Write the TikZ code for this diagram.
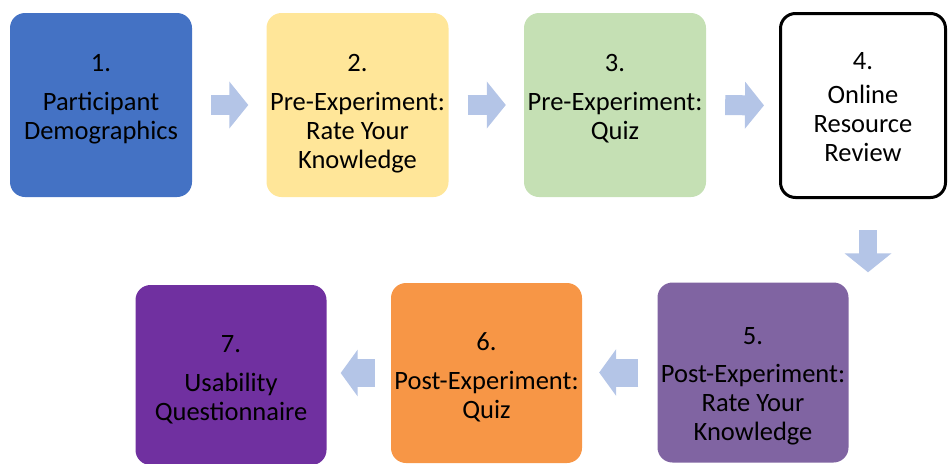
\documentclass[tikz,border=0pt]{standalone}
\usepackage{xcolor}
\usepackage{fontspec}
\setmainfont{Carlito}
\usepackage{tikz}
\usetikzlibrary{positioning,arrows.meta,calc}

\definecolor{stepblue}{HTML}{4472C4}
\definecolor{stepgold}{HTML}{FFE699}
\definecolor{stepgreen}{HTML}{C5E0B4}
\definecolor{steplilac}{HTML}{8064A2}
\definecolor{steporange}{HTML}{F79646}
\definecolor{steppurple}{HTML}{7030A0}
\definecolor{flowblue}{HTML}{B4C5E7}

\begin{document}
\begin{tikzpicture}[x=1pt, y=-1pt,
    box/.style={rectangle, rounded corners=15pt, minimum width=182pt, minimum height=184pt, inner sep=0pt},
    lowbox/.style={box, minimum width=191pt, minimum height=180pt},
    txt/.style={align=center, inner sep=0pt, font=\fontsize{26.5}{29}\selectfont},
    flow/.style={draw=flowblue, line width=20pt, -{Triangle[width=46pt, length=19pt]}, shorten <=19pt, shorten >=18pt},
    lowflow/.style={draw=flowblue, line width=28pt, -{Triangle[width=46pt, length=17pt]}}
]
    \useasboundingbox (0,0) rectangle (952,463);

    \node[box, fill=stepblue] (b1) at (101, 105) {};
    \node[box, fill=stepgold] (b2) at (357.5, 105) {};
    \node[box, fill=stepgreen] (b3) at (615, 105) {};
    \node[box, draw=black, line width=3pt, fill=white, minimum width=165pt, minimum height=184pt] (b4) at (863, 105.5) {};

    \node[lowbox, fill=steplilac] (b5) at (753, 372.5) {};
    \node[lowbox, fill=steporange] (b6) at (486.5, 373) {};
    \node[lowbox, fill=steppurple] (b7) at (231, 375) {};

    \node[txt, below=41pt of b1.north] (t1) {1.\\[10pt]Participant\\Demographics};
    \node[txt, below=41pt of b2.north] (t2) {2.\\[10pt]Pre-Experiment:\\Rate Your\\Knowledge};
    \node[txt, below=41pt of b3.north] (t3) {3.\\[10pt]Pre-Experiment:\\Quiz};
    \node[txt, below=40.5pt of b4.north] (t4) {4.\\[5pt]Online\\Resource\\Review};
    \node[txt, below=45pt of b5.north] (t5) {5.\\[9pt]Post-Experiment:\\Rate Your\\Knowledge};
    \node[txt, below=50pt of b6.north] (t6) {6.\\[10pt]Post-Experiment:\\Quiz};
    \node[txt, below=50pt of b7.north] (t7) {7.\\[10pt]Usability\\Questionnaire};

    \draw[flow] (b1.east) -- (b2.west);
    \draw[flow] (b2.east) -- (b3.west);
    \draw[flow, shorten >=15pt] (b3.east) -- (b4.west);
    \draw[flow, line width=18pt, shorten <=31pt, shorten >=10pt]
        ([xshift=5pt]b4.south) -- ([xshift=5pt]b4.south |- b5.north);
    \draw[lowflow, shorten <=19pt, shorten >=17pt] (b5.west) -- (b5.west -| b6.east);
    \draw[lowflow, shorten <=16pt, shorten >=14pt] (b6.west) -- (b6.west -| b7.east);

\end{tikzpicture}
\end{document}
